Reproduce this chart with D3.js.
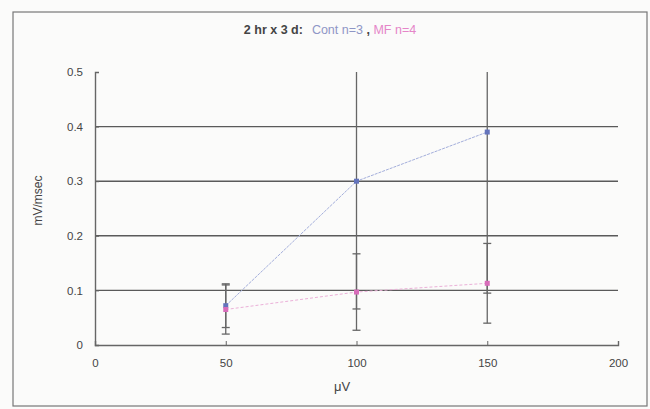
<!DOCTYPE html>
<html>
<head>
<meta charset="utf-8">
<script src="https://cdn.jsdelivr.net/npm/d3@7"></script>
<style>
  body { margin: 0; background: #fff; }
  svg { display: block; font-family: "Liberation Sans", Arial, sans-serif; }
</style>
</head>
<body>
<div id="chart"></div>
<script>
// data
const doses = [50, 100, 150];
const contMean = [0.072, 0.300, 0.390];
const contErr = [0.040, 0.234, 0.295];
const mfMean = [0.065, 0.097, 0.113];
const mfErr = [0.045, 0.070, 0.073];
const xTicks = [0, 50, 100, 150, 200];
const yTicks = [0, 0.1, 0.2, 0.3, 0.4, 0.5];

const width = 650, height = 409;
const plotLeft = 95, plotRight = 618, plotTop = 72, plotBottom = 345;

const svg = d3.select('#chart').append('svg')
  .attr('width', width)
  .attr('height', height);

svg.append('rect').attr('width', width).attr('height', height).attr('fill', '#fbfbfa');

// outer frame
svg.append('rect')
  .attr('x', 13).attr('y', 12)
  .attr('width', 634).attr('height', 394)
  .attr('fill', 'none').attr('stroke', '#777').attr('stroke-width', 1.2);

let x = d3.scaleLinear().domain([0, 200]).range([plotLeft, plotRight]);
let y = d3.scaleLinear().domain([0, 0.5]).range([plotBottom, plotTop]);

svg.append('clipPath').attr('id', 'plotclip')
  .append('rect').attr('x', plotLeft - 5).attr('y', plotTop)
  .attr('width', plotRight - plotLeft + 10).attr('height', plotBottom - plotTop);

// gridlines
svg.append('g').selectAll('line')
  .data(yTicks.filter(d => d > 0 && d < 0.5))
  .join('line')
  .attr('x1', plotLeft).attr('x2', plotRight)
  .attr('y1', d => y(d)).attr('y2', d => y(d))
  .attr('stroke', '#5a5a5a').attr('stroke-width', 1.4);

// axes
let xAxis = svg.append('g')
  .attr('transform', `translate(0,${plotBottom})`)
  .call(d3.axisBottom(x).tickValues(xTicks).tickSizeInner(-4).tickSizeOuter(-4).tickPadding(14));
let yAxis = svg.append('g')
  .attr('transform', `translate(${plotLeft},0)`)
  .call(d3.axisLeft(y).tickValues(yTicks).tickSizeInner(-4).tickSizeOuter(-4).tickPadding(12)
    .tickFormat(d => d === 0 ? '0' : d3.format('.1f')(d)));

[xAxis, yAxis].forEach(a => {
  a.select('.domain').attr('stroke', '#666').attr('stroke-width', 1.4);
  a.selectAll('.tick line').attr('stroke', '#666');
  a.selectAll('.tick text').attr('fill', '#444').attr('font-size', 11.5);
});

// error bars
function errorBars(means, errs) {
  let g = svg.append('g').attr('clip-path', 'url(#plotclip)');
  doses.forEach((d, i) => {
    let lo = means[i] - errs[i], hi = means[i] + errs[i];
    g.append('line')
      .attr('x1', x(d)).attr('x2', x(d))
      .attr('y1', y(lo)).attr('y2', y(hi))
      .attr('stroke', '#666').attr('stroke-width', 1.3);
    [lo, hi].forEach(v => {
      g.append('line')
        .attr('x1', x(d) - 4).attr('x2', x(d) + 4)
        .attr('y1', y(v)).attr('y2', y(v))
        .attr('stroke', '#666').attr('stroke-width', 1.3);
    });
  });
}
errorBars(contMean, contErr);
errorBars(mfMean, mfErr);

// series lines
let line = d3.line().x((d, i) => x(doses[i])).y(d => y(d));

svg.append('path').datum(contMean)
  .attr('d', line).attr('fill', 'none')
  .attr('stroke', '#a3aedb').attr('stroke-width', 1).attr('stroke-dasharray', '3,1');
svg.append('path').datum(mfMean)
  .attr('d', line).attr('fill', 'none')
  .attr('stroke', '#ebb0d8').attr('stroke-width', 1).attr('stroke-dasharray', '3,2');

svg.append('g').selectAll('rect')
  .data(contMean).join('rect')
  .attr('x', (d, i) => x(doses[i]) - 2.5).attr('y', d => y(d) - 2.5)
  .attr('width', 5).attr('height', 5).attr('fill', '#6474bc');
svg.append('g').selectAll('rect')
  .data(mfMean).join('rect')
  .attr('x', (d, i) => x(doses[i]) - 2.5).attr('y', d => y(d) - 2.5)
  .attr('width', 5).attr('height', 5).attr('fill', '#d86cba');

// title
let title = svg.append('text')
  .attr('x', 330).attr('y', 34)
  .attr('text-anchor', 'middle')
  .attr('font-size', 12.5);
title.append('tspan').text('2 hr x 3 d:').attr('fill', '#444').attr('font-weight', 'bold');
title.append('tspan').text('Cont n=3').attr('dx', 9).attr('fill', '#8f96c6');
title.append('tspan').text(' , ').attr('fill', '#444').attr('font-weight', 'bold');
title.append('tspan').text('MF n=4').attr('fill', '#e585c8');

// axis titles
svg.append('text')
  .attr('transform', `translate(42,${(plotTop + plotBottom) / 2 - 8}) rotate(-90)`)
  .attr('text-anchor', 'middle')
  .attr('font-size', 12).attr('fill', '#444')
  .text('mV/msec');
svg.append('text')
  .attr('x', 342).attr('y', 391)
  .attr('text-anchor', 'middle')
  .attr('font-size', 13).attr('fill', '#444')
  .text('μV');
</script>
</body>
</html>
